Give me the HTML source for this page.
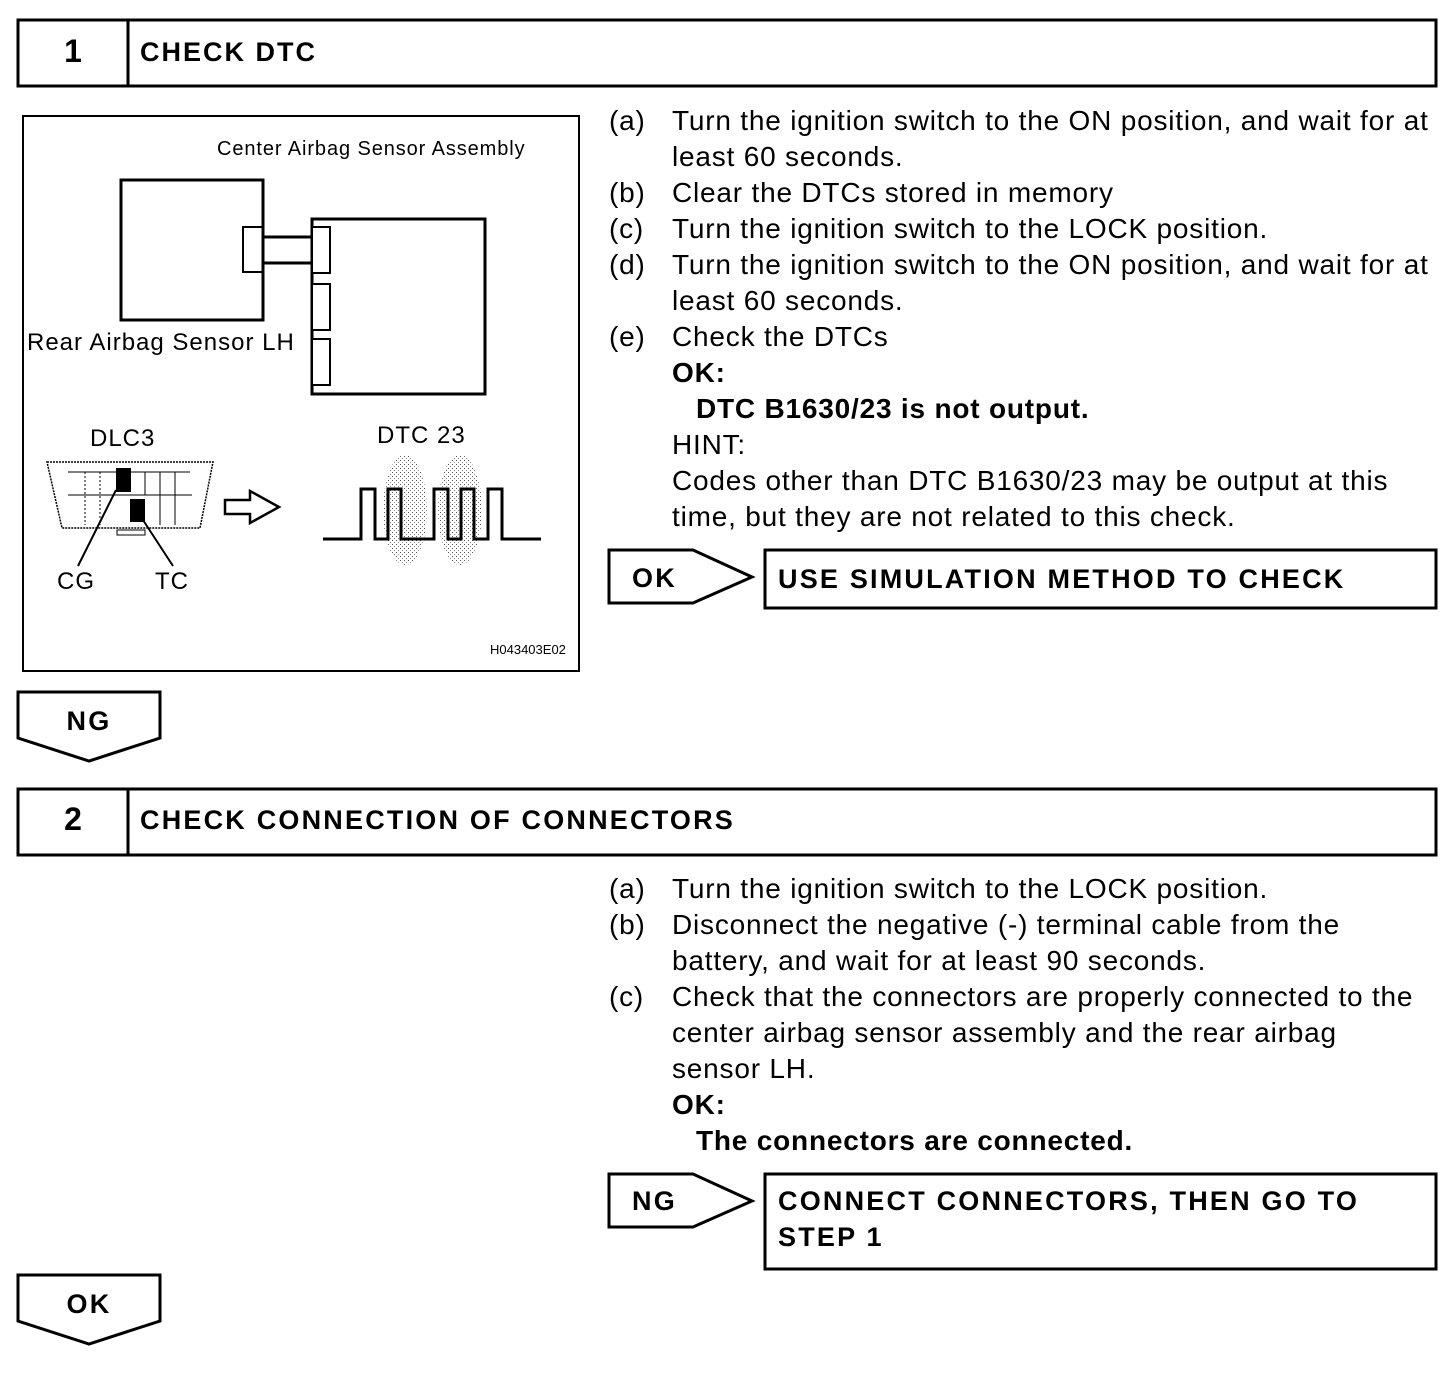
<!DOCTYPE html>
<html><head><meta charset="utf-8"><style>
body{margin:0;background:#fff}
svg text{font-family:"Liberation Sans",Arial,sans-serif;fill:#000}
.b{font-weight:bold}
</style></head><body>
<svg width="1456" height="1378" viewBox="0 0 1456 1378" xmlns="http://www.w3.org/2000/svg">
<defs>
<pattern id="dots" width="4" height="4" patternUnits="userSpaceOnUse">
<rect x="0" y="0" width="1" height="1" fill="#555"/><rect x="2" y="2" width="1" height="1" fill="#888"/>
</pattern>
</defs>
<g fill="none" stroke="#000" stroke-width="3">
<rect x="18" y="20" width="1418" height="66"/>
<line x1="128" y1="20" x2="128" y2="86"/>
<rect x="18" y="789" width="1418" height="66"/>
<line x1="128" y1="789" x2="128" y2="855"/>
<polygon points="609,550 693,550 752,577 693,603 609,603"/>
<rect x="765" y="550" width="671" height="58"/>
<polygon points="18,692 160,692 160,738 89,761 18,738"/>
<polygon points="609,1174 693,1174 752,1201 693,1227 609,1227"/>
<rect x="765" y="1174" width="671" height="95"/>
<polygon points="18,1275 160,1275 160,1321 89,1344 18,1321"/>
</g>
<text x="73" y="62" class="b" font-size="32" text-anchor="middle">1</text>
<text x="140" y="61" class="b" font-size="27" letter-spacing="2">CHECK DTC</text>
<text x="73" y="830" class="b" font-size="32" text-anchor="middle">2</text>
<text x="140" y="829" class="b" font-size="27" letter-spacing="2.2">CHECK CONNECTION OF CONNECTORS</text>

<!-- figure -->
<g fill="none" stroke="#000">
<rect x="23" y="116" width="556" height="555" stroke-width="2"/>
<rect x="121" y="180" width="142" height="140" stroke-width="3"/>
<rect x="243" y="227" width="20" height="45" stroke-width="2"/>
<line x1="263" y1="237" x2="312" y2="237" stroke-width="3"/>
<line x1="263" y1="263" x2="312" y2="263" stroke-width="3"/>
<rect x="312" y="219" width="173" height="175" stroke-width="3"/>
<rect x="312" y="227" width="18" height="46" stroke-width="2" fill="#fff"/>
<rect x="312" y="284" width="18" height="46" stroke-width="2" fill="#fff"/>
<rect x="312" y="339" width="18" height="46" stroke-width="2" fill="#fff"/>
<path d="M47,462 L213,462 L200,528 L62,528 Z" stroke-width="1.5" stroke-dasharray="2,1"/>
<line x1="68" y1="472" x2="190" y2="472" stroke-width="1"/>
<line x1="68" y1="495" x2="192" y2="495" stroke-width="1"/>
<line x1="85" y1="472" x2="85" y2="525" stroke-width="1" stroke-dasharray="2,2"/>
<line x1="100" y1="472" x2="100" y2="525" stroke-width="1" stroke-dasharray="2,2"/>
<line x1="145" y1="472" x2="145" y2="495" stroke-width="1"/>
<line x1="160" y1="472" x2="160" y2="525" stroke-width="1"/>
<line x1="175" y1="472" x2="175" y2="525" stroke-width="1"/>
<rect x="117" y="530" width="28" height="5" stroke-width="1"/>
<polygon points="225,500 250,500 250,491 279,507 250,523 250,514 225,514" stroke-width="2.5"/>
</g>
<rect x="116" y="468" width="15" height="24" fill="#000"/>
<rect x="130" y="499" width="15" height="23" fill="#000"/>
<line x1="116" y1="490" x2="78" y2="566" stroke="#000" stroke-width="2"/>
<line x1="143" y1="520" x2="173" y2="566" stroke="#000" stroke-width="2"/>
<ellipse cx="405" cy="510" rx="22" ry="55" fill="url(#dots)"/>
<ellipse cx="460" cy="510" rx="22" ry="55" fill="url(#dots)"/>
<polyline fill="none" stroke="#000" stroke-width="3" points="323,539 361,539 361,489 375,489 375,539 388,539 388,489 401,489 401,539 434,539 434,489 448,489 448,539 461,539 461,489 474,489 474,539 488,539 488,489 502,489 502,539 541,539"/>
<text x="217" y="155" font-size="20" letter-spacing="0.9">Center Airbag Sensor Assembly</text>
<text x="27" y="350" font-size="24" letter-spacing="1">Rear Airbag Sensor LH</text>
<text x="90" y="446" font-size="24" letter-spacing="1">DLC3</text>
<text x="377" y="443" font-size="24" letter-spacing="1">DTC 23</text>
<text x="57" y="589" font-size="24" letter-spacing="1">CG</text>
<text x="155" y="589" font-size="24" letter-spacing="1">TC</text>
<text x="490" y="654" font-size="13">H043403E02</text>

<g font-size="28" letter-spacing="0.8">
<text x="609" y="130">(a)</text><text x="672" y="130">Turn the ignition switch to the ON position, and wait for at</text>
<text x="672" y="166">least 60 seconds.</text>
<text x="609" y="202">(b)</text><text x="672" y="202">Clear the DTCs stored in memory</text>
<text x="609" y="238">(c)</text><text x="672" y="238">Turn the ignition switch to the LOCK position.</text>
<text x="609" y="274">(d)</text><text x="672" y="274">Turn the ignition switch to the ON position, and wait for at</text>
<text x="672" y="310">least 60 seconds.</text>
<text x="609" y="346">(e)</text><text x="672" y="346">Check the DTCs</text>
<text x="672" y="382" class="b">OK:</text>
<text x="696" y="418" class="b">DTC B1630/23 is not output.</text>
<text x="672" y="454">HINT:</text>
<text x="672" y="490">Codes other than DTC B1630/23 may be output at this</text>
<text x="672" y="526">time, but they are not related to this check.</text>

<text x="609" y="898">(a)</text><text x="672" y="898">Turn the ignition switch to the LOCK position.</text>
<text x="609" y="934">(b)</text><text x="672" y="934">Disconnect the negative (-) terminal cable from the</text>
<text x="672" y="970">battery, and wait for at least 90 seconds.</text>
<text x="609" y="1006">(c)</text><text x="672" y="1006">Check that the connectors are properly connected to the</text>
<text x="672" y="1042">center airbag sensor assembly and the rear airbag</text>
<text x="672" y="1078">sensor LH.</text>
<text x="672" y="1114" class="b">OK:</text>
<text x="696" y="1150" class="b">The connectors are connected.</text>
</g>
<g font-size="27" letter-spacing="2.2">
<text x="632" y="587" class="b">OK</text>
<text x="778" y="588" class="b">USE SIMULATION METHOD TO CHECK</text>
<text x="89" y="730" class="b" text-anchor="middle">NG</text>
<text x="632" y="1210" class="b">NG</text>
<text x="778" y="1210" class="b">CONNECT CONNECTORS, THEN GO TO</text>
<text x="778" y="1246" class="b">STEP 1</text>
<text x="89" y="1313" class="b" text-anchor="middle">OK</text>
</g>
</svg>
</body></html>
